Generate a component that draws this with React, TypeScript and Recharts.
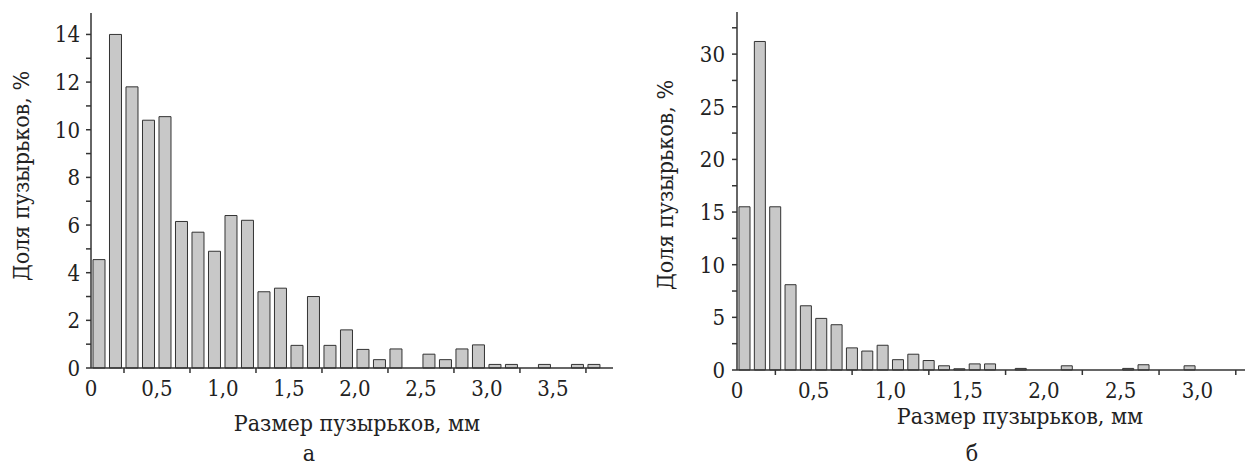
import { BarChart, Bar, XAxis, YAxis } from "recharts";

// bin widths, mm
const LEFT_BIN = 0.125;
const RIGHT_BIN = 0.1;

// share of bubbles per bin, %
const leftShare = [
  4.55, 14.0, 11.8, 10.4, 10.55, 6.15, 5.7, 4.9, 6.4, 6.2, 3.2, 3.35, 0.95, 3.0, 0.95, 1.6,
  0.78, 0.35, 0.8, 0, 0.58, 0.35, 0.8, 0.97, 0.15, 0.15, 0, 0.15, 0, 0.15, 0.15,
];
const rightShare = [
  15.5, 31.2, 15.5, 8.1, 6.1, 4.9, 4.3, 2.1, 1.8, 2.35, 0.98, 1.5, 0.9, 0.4, 0.12, 0.58,
  0.58, 0, 0.15, 0, 0, 0.4, 0, 0, 0, 0.15, 0.5, 0, 0, 0.4,
];

const leftXTicks = [0, 0.25, 0.5, 0.75, 1, 1.25, 1.5, 1.75, 2, 2.25, 2.5, 2.75, 3, 3.25, 3.5, 3.75];
const rightXTicks = [0, 0.25, 0.5, 0.75, 1, 1.25, 1.5, 1.75, 2, 2.25, 2.5, 2.75, 3, 3.25];
const leftYTicks = [0, 1, 2, 3, 4, 5, 6, 7, 8, 9, 10, 11, 12, 13, 14];
const rightYTicks = [0, 2.5, 5, 7.5, 10, 12.5, 15, 17.5, 20, 22.5, 25, 27.5, 30, 32.5];

const xTitle = "Размер пузырьков, мм";
const yTitle = "Доля пузырьков, %";

const FONT = '"DejaVu Serif Condensed", "DejaVu Serif", serif';
const INK = "#222";
const AXIS = "#333";

const leftData = leftShare.map((v, i) => ({ x: (i + 0.5) * LEFT_BIN, v }));
const rightData = rightShare.map((v, i) => ({ x: (i + 0.5) * RIGHT_BIN, v }));

const fmt = (v: number) => (v === 0 ? "0" : v.toFixed(1).replace(".", ","));

const textStyle = { fontFamily: FONT, fontStretch: "condensed" as const };

// labels sit on whole halves, tick marks on the quarters between them
function XTick(props: any) {
  const { x, y, payload } = props;
  const v = payload.value;
  if (Math.abs(v * 2 - Math.round(v * 2)) < 1e-6) {
    return (
      <text x={x} y={y + 28} textAnchor="middle" style={{ ...textStyle, fontSize: 22 }} fill={INK}>
        {fmt(v)}
      </text>
    );
  }
  return <line x1={x} x2={x} y1={y} y2={y + 5} stroke={AXIS} strokeWidth={1.5} />;
}

const yTickStyle = { ...textStyle, fontSize: 22, fill: INK };

export default function App() {
  return (
    <div style={{ position: "absolute", left: 0, top: 0, width: 1251, height: 466, background: "#fff" }}>
      <div style={{ position: "absolute", left: 0, top: 0 }}>
        <BarChart width={640} height={466} data={leftData} margin={{ top: 13, right: 27, left: 0, bottom: 68 }}>
          <XAxis
            dataKey="x"
            type="number"
            domain={[0, 3.955]}
            ticks={leftXTicks}
            interval={0}
            height={30}
            tickSize={0}
            tickMargin={0}
            tickLine={false}
            tick={<XTick />}
            axisLine={{ stroke: AXIS, strokeWidth: 1.5 }}
          />
          <YAxis
            type="number"
            domain={[0, 14.9]}
            ticks={leftYTicks}
            interval={0}
            width={91}
            tickSize={5}
            tickMargin={6}
            tick={yTickStyle}
            tickFormatter={(v: number) => (v % 2 === 0 ? String(v) : "")}
            tickLine={{ stroke: AXIS, strokeWidth: 1.5 }}
            axisLine={{ stroke: AXIS, strokeWidth: 1.5 }}
          />
          <Bar dataKey="v" fill="#c8c8c8" stroke="#333" strokeWidth={1} barSize={12} isAnimationActive={false} />
        </BarChart>
      </div>
      <div style={{ position: "absolute", left: 640, top: 0 }}>
        <BarChart width={611} height={466} data={rightData} margin={{ top: 12, right: 6, left: 0, bottom: 66 }}>
          <XAxis
            dataKey="x"
            type="number"
            domain={[0, 3.31]}
            ticks={rightXTicks}
            interval={0}
            height={30}
            tickSize={0}
            tickMargin={0}
            tickLine={false}
            tick={<XTick />}
            axisLine={{ stroke: AXIS, strokeWidth: 1.5 }}
          />
          <YAxis
            type="number"
            domain={[0, 34]}
            ticks={rightYTicks}
            interval={0}
            width={97}
            tickSize={5}
            tickMargin={7}
            tick={yTickStyle}
            tickFormatter={(v: number) => (v % 5 === 0 ? String(v) : "")}
            tickLine={{ stroke: AXIS, strokeWidth: 1.5 }}
            axisLine={{ stroke: AXIS, strokeWidth: 1.5 }}
          />
          <Bar dataKey="v" fill="#c8c8c8" stroke="#333" strokeWidth={1} barSize={11} isAnimationActive={false} />
        </BarChart>
      </div>
      <svg width={1251} height={466} style={{ position: "absolute", left: 0, top: 0, pointerEvents: "none" }}>
        <g style={{ ...textStyle, fontSize: 23 }} fill={INK}>
          <text x={357} y={431} textAnchor="middle">{xTitle}</text>
          <text x={1020} y={424} textAnchor="middle">{xTitle}</text>
          <text transform="translate(29,176) rotate(-90)" textAnchor="middle">{yTitle}</text>
          <text transform="translate(673,185) rotate(-90)" textAnchor="middle">{yTitle}</text>
          <text x={309} y={461} textAnchor="middle">а</text>
          <text x={972} y={461} textAnchor="middle">б</text>
        </g>
      </svg>
    </div>
  );
}
